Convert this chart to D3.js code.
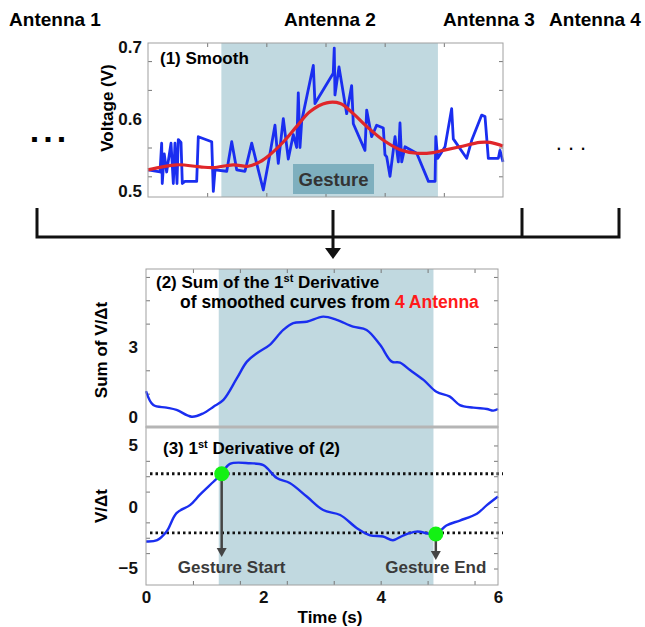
<!DOCTYPE html>
<html>
<head>
<meta charset="utf-8">
<script src="https://cdn.jsdelivr.net/npm/d3@7"></script>
<style>
  body { margin: 0; background: #fff; }
  text { font-family: "Liberation Sans", Arial, sans-serif; font-weight: bold; }
</style>
</head>
<body>
<svg id="chart" width="645" height="627"></svg>
<script>
// ---- data ----
var antennas = ["Antenna 1", "Antenna 2", "Antenna 3", "Antenna 4"];
var gesture = [1.24, 4.9]; // shaded gesture window (s)

// (1) raw voltage of antenna 2
var rawT = [0, 0.203, 0.231, 0.241, 0.275, 0.315, 0.389, 0.428, 0.456, 0.49, 0.512, 0.558, 0.58, 0.625, 0.823, 0.85,
  1.077, 1.104, 1.133, 1.331, 1.415, 1.499, 1.639, 1.753, 1.864, 1.949, 2.033, 2.146, 2.202, 2.287, 2.371, 2.456,
  2.513, 2.54, 2.569, 2.598, 2.794, 2.822, 3.131, 3.148, 3.16, 3.228, 3.358, 3.442, 3.47, 3.667, 3.696, 3.78, 3.865,
  3.977, 4.005, 4.034, 4.09, 4.175, 4.231, 4.259, 4.288, 4.344, 4.542, 4.74, 4.852, 4.864, 4.898, 5.02, 5.132, 5.16,
  5.386, 5.471, 5.64, 5.696, 5.752, 5.921, 5.949, 6.0];
var rawV = [0.529, 0.526, 0.566, 0.51, 0.551, 0.526, 0.566, 0.51, 0.566, 0.51, 0.571, 0.567, 0.51, 0.513, 0.513, 0.575,
  0.568, 0.499, 0.529, 0.527, 0.568, 0.529, 0.527, 0.566, 0.529, 0.501, 0.538, 0.591, 0.538, 0.6, 0.544, 0.578,
  0.56, 0.636, 0.56, 0.597, 0.674, 0.621, 0.663, 0.698, 0.633, 0.672, 0.607, 0.646, 0.593, 0.556, 0.612, 0.575, 0.591,
  0.587, 0.55, 0.547, 0.52, 0.575, 0.54, 0.594, 0.54, 0.561, 0.552, 0.513, 0.513, 0.575, 0.545, 0.561, 0.614, 0.572,
  0.545, 0.57, 0.605, 0.603, 0.545, 0.545, 0.556, 0.54];

// (1) smoothed voltage
var smoothT = [0, 0.484, 0.88, 1.1, 1.44, 1.695, 1.89, 2.06, 2.29, 2.51, 2.74, 3.02, 3.25, 3.47, 3.7, 3.98, 4.26,
  4.54, 4.82, 4.99, 5.27, 5.61, 5.78, 6.0];
var smoothV = [0.529, 0.536, 0.533, 0.532, 0.536, 0.534, 0.54, 0.55, 0.568, 0.589, 0.61, 0.622, 0.621, 0.607, 0.589,
  0.57, 0.557, 0.552, 0.553, 0.556, 0.561, 0.567, 0.567, 0.562];

// (2) sum of first derivative
var sumT = [0, 0.125, 0.35, 0.52, 0.78, 0.98, 1.15, 1.32, 1.55, 1.72, 1.89, 2.11, 2.34, 2.51, 2.74, 3.02, 3.25, 3.53,
  3.76, 3.99, 4.19, 4.33, 4.5, 4.73, 4.95, 5.18, 5.35, 5.58, 5.81, 5.92, 6.0];
var sumV = [1.11, 0.51, 0.4, 0.3, 0.01, 0.16, 0.44, 0.73, 1.66, 2.37, 2.73, 3.09, 3.73, 4.02, 4.08, 4.3, 4.16, 3.87,
  3.73, 3.09, 2.37, 2.33, 2.01, 1.59, 1.08, 0.87, 0.51, 0.4, 0.34, 0.27, 0.34];

// (3) derivative of (2)
var derT = [0, 0.19, 0.35, 0.52, 0.75, 0.92, 1.15, 1.29, 1.43, 1.77, 2.0, 2.23, 2.45, 2.74, 3.02, 3.31, 3.59, 3.82,
  4.04, 4.21, 4.39, 4.61, 4.94, 5.12, 5.35, 5.64, 5.81, 6.0];
var derV = [-2.8, -2.7, -2.0, -0.5, 0.15, 1.0, 2.05, 2.7, 3.5, 3.55, 3.4, 2.35, 1.95, 0.85, -0.25, -0.65, -1.7, -2.3,
  -2.4, -2.7, -2.3, -2.0, -2.2, -1.5, -1.1, -0.55, 0.15, 0.85];
var thresholds = [2.7, -2.1];
var events = [{ t: 1.29, v: 2.7, label: "Gesture Start" }, { t: 4.94, v: -2.2, label: "Gesture End" }];

var svg = d3.select("#chart");
var shade = "#c1d9e0";
var frameCol = "#a0a0a0";

function zip(ts, vs) { return ts.map(function(t, i) { return [t, vs[i]]; }); }

// ---- scales ----
var xTop = d3.scaleLinear().domain([0, 6]).range([148, 503]);
var yTop = d3.scaleLinear().domain([0.6 - 78.3 / 720, 0.6 + 75.7 / 720]).range([197, 43]);
var x2 = d3.scaleLinear().domain([0, 6]).range([146, 498]);
var yMid = d3.scaleLinear().domain([-0.43, 6.34]).range([427, 269]);
var yBot = d3.scaleLinear().domain([-6.34, 6.5]).range([585, 427]);

// ---- antenna labels ----
var antX = [55, 330, 489, 595];
svg.selectAll(".ant").data(antennas).enter().append("text")
  .attr("class", "ant")
  .attr("x", function(d, i) { return antX[i]; })
  .attr("y", 26)
  .attr("text-anchor", "middle")
  .style("font-size", "19px")
  .text(function(d) { return d; });

svg.append("text").attr("x", 50).attr("y", 142).attr("text-anchor", "middle")
  .style("font-size", "34px").style("letter-spacing", "4px").text("...");
svg.append("text").attr("x", 574).attr("y", 150).attr("text-anchor", "middle")
  .style("font-size", "22px").style("font-weight", "normal").style("letter-spacing", "6px").text("...");

// ---- panel 1 ----
var p1 = svg.append("g");
p1.append("rect").attr("x", xTop(gesture[0])).attr("y", 43)
  .attr("width", xTop(gesture[1]) - xTop(gesture[0])).attr("height", 154).attr("fill", shade);

p1.append("g").attr("transform", "translate(0,197)")
  .call(d3.axisBottom(xTop).tickValues([1, 2, 3, 4, 5]).tickSize(-4).tickFormat(""));
p1.append("g").attr("transform", "translate(0,43)")
  .call(d3.axisTop(xTop).tickValues([1, 2, 3, 4, 5]).tickSize(-4).tickFormat(""));
p1.append("g").attr("transform", "translate(148,0)")
  .call(d3.axisLeft(yTop).tickValues([0.5, 0.6, 0.7]).tickSize(0).tickPadding(6).tickFormat(d3.format(".1f")));
p1.append("g").attr("transform", "translate(148,0)")
  .call(d3.axisLeft(yTop).tickValues([0.52, 0.56, 0.64, 0.68]).tickSize(-4).tickFormat(""));
p1.append("g").attr("transform", "translate(503,0)")
  .call(d3.axisRight(yTop).tickValues([0.52, 0.56, 0.6, 0.64, 0.68]).tickSize(-4).tickFormat(""));

p1.append("rect").attr("x", 293).attr("y", 164).attr("width", 81).attr("height", 30).attr("fill", "#7eafbe");
p1.append("text").attr("x", 333.5).attr("y", 186).attr("text-anchor", "middle")
  .style("font-size", "18.5px").attr("fill", "#333").text("Gesture");

var lineTop = d3.line().x(function(d) { return xTop(d[0]); }).y(function(d) { return yTop(d[1]); });
p1.append("path").datum(zip(rawT, rawV)).attr("d", lineTop)
  .attr("fill", "none").attr("stroke", "#1a2ef0").attr("stroke-width", 2.8).attr("stroke-linejoin", "round");
p1.append("path").datum(zip(smoothT, smoothV)).attr("d", lineTop.curve(d3.curveCatmullRom))
  .attr("fill", "none").attr("stroke", "#e0262a").attr("stroke-width", 3.2);

p1.append("rect").attr("x", 148).attr("y", 43).attr("width", 355).attr("height", 154)
  .attr("fill", "none").attr("stroke", frameCol);
p1.append("text").attr("x", 160).attr("y", 64).style("font-size", "17px").text("(1) Smooth");
p1.append("text").attr("transform", "translate(113,108) rotate(-90)").attr("text-anchor", "middle")
  .style("font-size", "17px").text("Voltage (V)");

// ---- bracket and arrow ----
var br = svg.append("g").attr("stroke", "#111").attr("stroke-width", 3).attr("fill", "none");
br.append("path").attr("d", "M37,208V237H619V208");
br.append("path").attr("d", "M522,208V237");
br.append("path").attr("d", "M333,210V249");
svg.append("path").attr("d", "M325,248L341,248L333,259Z").attr("fill", "#111");

// ---- panel 2 ----
var p2 = svg.append("g");
p2.append("rect").attr("x", x2(gesture[0])).attr("y", 269)
  .attr("width", x2(gesture[1]) - x2(gesture[0])).attr("height", 158).attr("fill", shade);
var minorX = [0.8, 1.6, 2.4, 3.2, 4.0, 4.8, 5.6];
p2.append("g").attr("transform", "translate(0,269)")
  .call(d3.axisTop(x2).tickValues(minorX).tickSize(-4).tickFormat(""));
p2.append("g").attr("transform", "translate(146,0)")
  .call(d3.axisLeft(yMid).tickValues([0, 3]).tickSize(0).tickPadding(8).tickFormat(d3.format("d")));
p2.append("g").attr("transform", "translate(146,0)")
  .call(d3.axisLeft(yMid).tickValues([1, 2, 4, 5, 6]).tickSize(-4).tickFormat(""));
p2.append("g").attr("transform", "translate(498,0)")
  .call(d3.axisRight(yMid).tickValues([1, 2, 3, 4, 5, 6]).tickSize(-4).tickFormat(""));

var lineMid = d3.line().curve(d3.curveCatmullRom)
  .x(function(d) { return x2(d[0]); }).y(function(d) { return yMid(d[1]); });
p2.append("path").datum(zip(sumT, sumV)).attr("d", lineMid)
  .attr("fill", "none").attr("stroke", "#1a2ef0").attr("stroke-width", 2.4);
p2.append("rect").attr("x", 146).attr("y", 269).attr("width", 352).attr("height", 158)
  .attr("fill", "none").attr("stroke", frameCol);

var t2 = p2.append("text").attr("x", 156).attr("y", 288).style("font-size", "17px");
t2.append("tspan").text("(2) Sum of the 1");
t2.append("tspan").attr("dy", -6).style("font-size", "11px").text("st");
t2.append("tspan").attr("dy", 6).text(" Derivative");
var t2b = p2.append("text").attr("x", 180).attr("y", 308).style("font-size", "17.5px");
t2b.append("tspan").text("of smoothed curves from ");
t2b.append("tspan").attr("fill", "#ff1a1a").text("4 Antenna");
p2.append("text").attr("transform", "translate(107,350) rotate(-90)").attr("text-anchor", "middle")
  .style("font-size", "17px").text("Sum of V/\u0394t");

// ---- panel 3 ----
var p3 = svg.append("g");
p3.append("rect").attr("x", x2(gesture[0])).attr("y", 427)
  .attr("width", x2(gesture[1]) - x2(gesture[0])).attr("height", 158).attr("fill", shade);
p3.append("g").attr("transform", "translate(0,585)")
  .call(d3.axisBottom(x2).tickValues(minorX).tickSize(-4).tickFormat(""));
p3.append("g").attr("transform", "translate(0,585)")
  .call(d3.axisBottom(x2).tickValues([0, 2, 4, 6]).tickSize(0).tickPadding(6).tickFormat(d3.format("d")));
p3.append("g").attr("transform", "translate(146,0)")
  .call(d3.axisLeft(yBot).tickValues([-5, 0, 5]).tickSize(0).tickPadding(8).tickFormat(d3.format("d")));
p3.append("g").attr("transform", "translate(146,0)")
  .call(d3.axisLeft(yBot).tickValues([-3.75, -2.5, -1.25, 1.25, 2.5, 3.75]).tickSize(-4).tickFormat(""));
p3.append("g").attr("transform", "translate(498,0)")
  .call(d3.axisRight(yBot).tickValues([-5, -3.75, -2.5, -1.25, 0, 1.25, 2.5, 3.75, 5]).tickSize(-4).tickFormat(""));

p3.selectAll(".thr").data(thresholds).enter().append("line")
  .attr("x1", 150).attr("x2", 503)
  .attr("y1", function(d) { return yBot(d); }).attr("y2", function(d) { return yBot(d); })
  .attr("stroke", "#111").attr("stroke-width", 2.8).attr("stroke-dasharray", "2.5,3");

var lineBot = d3.line().curve(d3.curveCatmullRom)
  .x(function(d) { return x2(d[0]); }).y(function(d) { return yBot(d[1]); });
p3.append("path").datum(zip(derT, derV)).attr("d", lineBot)
  .attr("fill", "none").attr("stroke", "#1a2ef0").attr("stroke-width", 2.4);

// event arrows, dots and labels
var arrowEnd = [557, 560];
events.forEach(function(e, i) {
  var x = x2(e.t);
  p3.append("line").attr("x1", x).attr("x2", x).attr("y1", yBot(e.v)).attr("y2", arrowEnd[i] - 8)
    .attr("stroke", "#444").attr("stroke-width", 2.5);
  p3.append("path").attr("d", "M" + (x - 5) + "," + (arrowEnd[i] - 9) + "L" + (x + 5) + "," + (arrowEnd[i] - 9) +
    "L" + x + "," + arrowEnd[i] + "Z").attr("fill", "#444");
  p3.append("circle").attr("cx", x).attr("cy", yBot(e.v)).attr("r", 7.5).attr("fill", "#13f113");
  p3.append("text").attr("x", x + (i === 0 ? 10 : 0)).attr("y", 573).attr("text-anchor", "middle")
    .attr("fill", "#3a3a3a").style("font-size", "17px").text(e.label);
});

p3.append("rect").attr("x", 146).attr("y", 427).attr("width", 352).attr("height", 158)
  .attr("fill", "none").attr("stroke", frameCol);
p3.append("line").attr("x1", 146).attr("x2", 498).attr("y1", 427).attr("y2", 427)
  .attr("stroke", "#b5b5b5").attr("stroke-width", 3);

var t3 = p3.append("text").attr("x", 163).attr("y", 454).style("font-size", "17px");
t3.append("tspan").text("(3) 1");
t3.append("tspan").attr("dy", -6).style("font-size", "11px").text("st");
t3.append("tspan").attr("dy", 6).text(" Derivative of (2)");
p3.append("text").attr("transform", "translate(107,506) rotate(-90)").attr("text-anchor", "middle")
  .style("font-size", "17px").text("V/\u0394t");
p3.append("text").attr("x", 330).attr("y", 623).attr("text-anchor", "middle")
  .style("font-size", "17px").text("Time (s)");

// axis styling
svg.selectAll(".domain").remove();
svg.selectAll(".tick line").attr("stroke", "#777");
svg.selectAll(".tick text").attr("fill", "#111").style("font-size", "17px")
  .style("font-family", "'Liberation Sans', Arial, sans-serif").style("font-weight", "bold");
</script>
</body>
</html>
